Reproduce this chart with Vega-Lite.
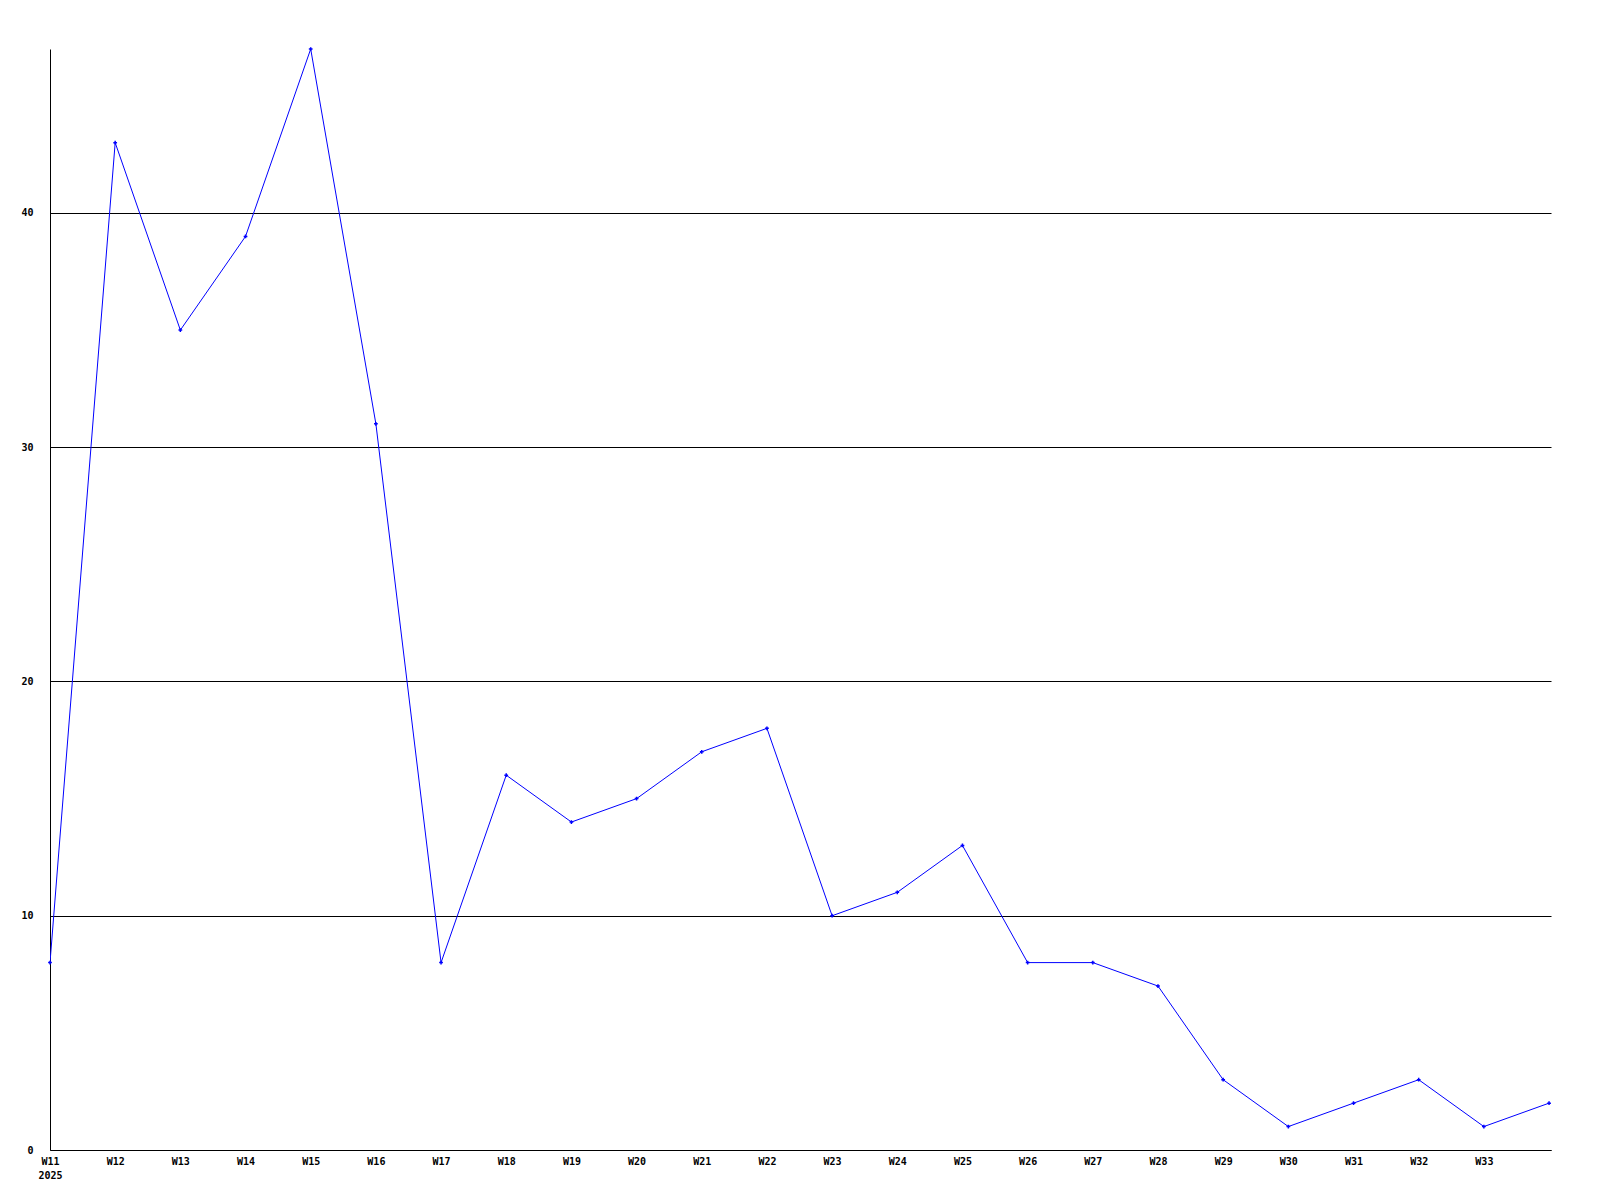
{
  "$schema": "https://vega.github.io/schema/vega-lite/v6.json",
  "width": 1501,
  "height": 1101,
  "autosize": {"type": "none"},
  "padding": {"left": 50, "top": 49, "right": 49, "bottom": 50},
  "background": "white",
  "config": {
    "view": {"stroke": null},
    "axis": {
      "labelFont": "DejaVu Sans Mono",
      "labelFontWeight": "bold",
      "labelFontSize": 10,
      "labelColor": "black",
      "domainColor": "black",
      "domainWidth": 1,
      "ticks": false,
      "title": null
    }
  },
  "data": {
    "values": [
      {"week": 11, "count": 8},
      {"week": 12, "count": 43},
      {"week": 13, "count": 35},
      {"week": 14, "count": 39},
      {"week": 15, "count": 47},
      {"week": 16, "count": 31},
      {"week": 17, "count": 8},
      {"week": 18, "count": 16},
      {"week": 19, "count": 14},
      {"week": 20, "count": 15},
      {"week": 21, "count": 17},
      {"week": 22, "count": 18},
      {"week": 23, "count": 10},
      {"week": 24, "count": 11},
      {"week": 25, "count": 13},
      {"week": 26, "count": 8},
      {"week": 27, "count": 8},
      {"week": 28, "count": 7},
      {"week": 29, "count": 3},
      {"week": 30, "count": 1},
      {"week": 31, "count": 2},
      {"week": 32, "count": 3},
      {"week": 33, "count": 1},
      {"week": 34, "count": 2}
    ]
  },
  "encoding": {
    "x": {
      "field": "week",
      "type": "quantitative",
      "scale": {"domain": [11, 34.03], "nice": false, "zero": false},
      "axis": {
        "values": [11,12,13,14,15,16,17,18,19,20,21,22,23,24,25,26,27,28,29,30,31,32,33],
        "labelExpr": "datum.value == 11 ? ['W11', '2025'] : 'W' + datum.value",
        "labelPadding": 6,
        "labelLineHeight": 14,
        "labelAlign": "center",
        "labelFlush": false,
        "labelOverlap": false,
        "grid": false
      }
    },
    "y": {
      "field": "count",
      "type": "quantitative",
      "scale": {"domain": [0, 47], "nice": false, "zero": true},
      "axis": {
        "values": [0, 10, 20, 30, 40],
        "grid": true,
        "gridColor": "black",
        "gridOpacity": 1,
        "gridWidth": 1,
        "labelPadding": 17,
        "labelFlush": false
      }
    }
  },
  "layer": [
    {"mark": {"type": "line", "color": "#0000ff", "strokeWidth": 1, "clip": true}},
    {"mark": {"type": "point", "shape": "cross", "filled": true, "color": "#0000ff", "size": 14, "opacity": 1}}
  ]
}
